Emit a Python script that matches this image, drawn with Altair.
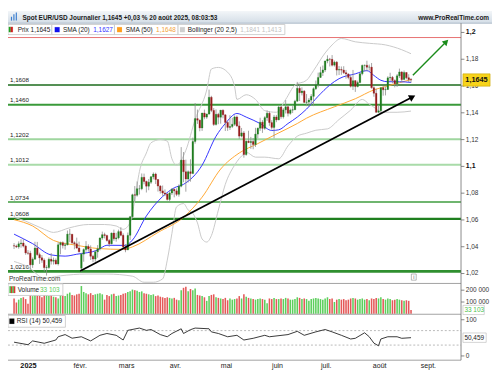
import altair as alt
import pandas as pd

# ---------------- layout (reference is 500x375, page has an 8px margin) ----------------
W, H = 492, 367
SX, SY = W / 500.0, H / 375.0
FONT = "Liberation Sans"


def X(v):
    return v * SX


def Y(v):
    return v * SY


# ---------------- data ----------------
DATES = pd.bdate_range("2024-12-24", "2025-08-20")

OPEN = [1.0408, 1.0405, 1.0399, 1.0422, 1.0428, 1.0405, 1.0354, 1.0352, 1.0265, 1.0307,
        1.0390, 1.0341, 1.0317, 1.0300, 1.0244, 1.0245, 1.0307, 1.0292, 1.0300, 1.0272,
        1.0414, 1.0430, 1.0410, 1.0414, 1.0494, 1.0494, 1.0430, 1.0422, 1.0390, 1.0240,
        1.0345, 1.0379, 1.0403, 1.0383, 1.0329, 1.0308, 1.0362, 1.0385, 1.0465, 1.0490,
        1.0484, 1.0447, 1.0422, 1.0502, 1.0459, 1.0466, 1.0513, 1.0485, 1.0398, 1.0376,
        1.0485, 1.0624, 1.0788, 1.0785, 1.0833, 1.0833, 1.0918, 1.0888, 1.0852, 1.0882,
        1.0922, 1.0943, 1.0902, 1.0853, 1.0817, 1.0801, 1.0794, 1.0753, 1.0801, 1.0829,
        1.0817, 1.0791, 1.0852, 1.1047, 1.0960, 1.0906, 1.0960, 1.0947, 1.1186, 1.1357,
        1.1345, 1.1287, 1.1398, 1.1368, 1.1391, 1.1516, 1.1418, 1.1313, 1.1389, 1.1367,
        1.1420, 1.1385, 1.1328, 1.1291, 1.1298, 1.1314, 1.1369, 1.1302, 1.1226, 1.1250,
        1.1088, 1.1188, 1.1178, 1.1186, 1.1163, 1.1241, 1.1285, 1.1330, 1.1284, 1.1364,
        1.1397, 1.1327, 1.1291, 1.1369, 1.1347, 1.1443, 1.1370, 1.1422, 1.1445, 1.1396,
        1.1420, 1.1423, 1.1487, 1.1583, 1.1550, 1.1562, 1.1478, 1.1480, 1.1495, 1.1523,
        1.1580, 1.1610, 1.1664, 1.1700, 1.1720, 1.1787, 1.1800, 1.1799, 1.1756, 1.1778,
        1.1719, 1.1723, 1.1719, 1.1700, 1.1690, 1.1664, 1.1598, 1.1640, 1.1596, 1.1626,
        1.1692, 1.1754, 1.1755, 1.1741, 1.1741, 1.1588, 1.1546, 1.1404, 1.1415, 1.1587,
        1.1572, 1.1574, 1.1661, 1.1665, 1.1641, 1.1617, 1.1676, 1.1705, 1.1648, 1.1701,
        1.1662, 1.1648]
HIGH = [1.0427, 1.0416, 1.0440, 1.0456, 1.0458, 1.0415, 1.0375, 1.0370, 1.0320, 1.0437,
        1.0436, 1.0356, 1.0338, 1.0313, 1.0262, 1.0320, 1.0353, 1.0319, 1.0313, 1.0434,
        1.0438, 1.0440, 1.0430, 1.0521, 1.0533, 1.0494, 1.0441, 1.0468, 1.0438, 1.0355,
        1.0388, 1.0442, 1.0418, 1.0410, 1.0340, 1.0375, 1.0412, 1.0470, 1.0513, 1.0505,
        1.0490, 1.0457, 1.0506, 1.0528, 1.0504, 1.0528, 1.0546, 1.0500, 1.0420, 1.0506,
        1.0630, 1.0796, 1.0853, 1.0888, 1.0860, 1.0947, 1.0946, 1.0893, 1.0906, 1.0928,
        1.0955, 1.0953, 1.0905, 1.0860, 1.0857, 1.0828, 1.0799, 1.0812, 1.0838, 1.0835,
        1.0836, 1.0866, 1.1144, 1.1107, 1.1050, 1.0970, 1.1053, 1.1215, 1.1473, 1.1424,
        1.1350, 1.1400, 1.1424, 1.1394, 1.1573, 1.1527, 1.1436, 1.1425, 1.1400, 1.1421,
        1.1425, 1.1389, 1.1340, 1.1382, 1.1363, 1.1380, 1.1380, 1.1336, 1.1287, 1.1264,
        1.1193, 1.1266, 1.1220, 1.1212, 1.1288, 1.1290, 1.1363, 1.1345, 1.1375, 1.1418,
        1.1410, 1.1345, 1.1384, 1.1384, 1.1455, 1.1454, 1.1435, 1.1495, 1.1455, 1.1431,
        1.1450, 1.1497, 1.1631, 1.1613, 1.1590, 1.1570, 1.1540, 1.1510, 1.1540, 1.1590,
        1.1641, 1.1700, 1.1744, 1.1753, 1.1790, 1.1829, 1.1810, 1.1831, 1.1790, 1.1787,
        1.1749, 1.1746, 1.1748, 1.1720, 1.1695, 1.1680, 1.1720, 1.1644, 1.1640, 1.1700,
        1.1760, 1.1760, 1.1789, 1.1760, 1.1772, 1.1598, 1.1580, 1.1455, 1.1590, 1.1599,
        1.1595, 1.1673, 1.1699, 1.1675, 1.1650, 1.1690, 1.1730, 1.1710, 1.1716, 1.1704,
        1.1688, 1.1660]
LOW = [1.0383, 1.0390, 1.0385, 1.0393, 1.0395, 1.0340, 1.0340, 1.0226, 1.0242, 1.0305,
       1.0333, 1.0272, 1.0280, 1.0215, 1.0185, 1.0235, 1.0267, 1.0267, 1.0266, 1.0260,
       1.0344, 1.0387, 1.0378, 1.0410, 1.0434, 1.0420, 1.0381, 1.0386, 1.0358, 1.0211,
       1.0288, 1.0363, 1.0363, 1.0301, 1.0285, 1.0288, 1.0318, 1.0372, 1.0452, 1.0462,
       1.0438, 1.0400, 1.0418, 1.0444, 1.0438, 1.0455, 1.0478, 1.0388, 1.0359, 1.0376,
       1.0450, 1.0610, 1.0735, 1.0774, 1.0790, 1.0822, 1.0866, 1.0805, 1.0822, 1.0869,
       1.0903, 1.0868, 1.0812, 1.0797, 1.0780, 1.0778, 1.0745, 1.0733, 1.0786, 1.0769,
       1.0778, 1.0774, 1.0844, 1.0882, 1.0811, 1.0880, 1.0886, 1.0942, 1.1170, 1.1317,
       1.1262, 1.1265, 1.1352, 1.1355, 1.1385, 1.1405, 1.1302, 1.1305, 1.1315, 1.1319,
       1.1359, 1.1264, 1.1265, 1.1272, 1.1286, 1.1302, 1.1293, 1.1205, 1.1217, 1.1065,
       1.1080, 1.1174, 1.1131, 1.1128, 1.1145, 1.1210, 1.1265, 1.1250, 1.1273, 1.1340,
       1.1303, 1.1275, 1.1210, 1.1330, 1.1345, 1.1355, 1.1357, 1.1395, 1.1373, 1.1385,
       1.1398, 1.1420, 1.1480, 1.1488, 1.1530, 1.1473, 1.1450, 1.1445, 1.1460, 1.1450,
       1.1570, 1.1590, 1.1660, 1.1675, 1.1705, 1.1770, 1.1746, 1.1746, 1.1745, 1.1679,
       1.1682, 1.1684, 1.1690, 1.1655, 1.1650, 1.1589, 1.1570, 1.1556, 1.1590, 1.1620,
       1.1680, 1.1710, 1.1710, 1.1715, 1.1580, 1.1520, 1.1400, 1.1400, 1.1392, 1.1528,
       1.1530, 1.1570, 1.1636, 1.1620, 1.1590, 1.1593, 1.1660, 1.1630, 1.1648, 1.1650,
       1.1630, 1.1624]
CLOSE = [1.0405, 1.0399, 1.0422, 1.0428, 1.0405, 1.0354, 1.0352, 1.0265, 1.0307, 1.0390,
         1.0341, 1.0317, 1.0300, 1.0244, 1.0245, 1.0307, 1.0292, 1.0300, 1.0272, 1.0414,
         1.0430, 1.0410, 1.0414, 1.0494, 1.0494, 1.0430, 1.0422, 1.0390, 1.0362, 1.0345,
         1.0379, 1.0403, 1.0383, 1.0329, 1.0308, 1.0362, 1.0385, 1.0465, 1.0490, 1.0484,
         1.0447, 1.0422, 1.0502, 1.0459, 1.0466, 1.0513, 1.0485, 1.0398, 1.0376, 1.0485,
         1.0624, 1.0788, 1.0785, 1.0833, 1.0833, 1.0918, 1.0888, 1.0852, 1.0882, 1.0922,
         1.0943, 1.0902, 1.0853, 1.0817, 1.0801, 1.0794, 1.0753, 1.0801, 1.0829, 1.0817,
         1.0791, 1.0852, 1.1047, 1.0960, 1.0906, 1.0960, 1.0947, 1.1186, 1.1357, 1.1345,
         1.1287, 1.1398, 1.1368, 1.1391, 1.1516, 1.1418, 1.1313, 1.1389, 1.1367, 1.1420,
         1.1385, 1.1328, 1.1291, 1.1298, 1.1314, 1.1369, 1.1302, 1.1226, 1.1250, 1.1088,
         1.1188, 1.1178, 1.1186, 1.1163, 1.1241, 1.1285, 1.1330, 1.1284, 1.1364, 1.1397,
         1.1327, 1.1291, 1.1369, 1.1347, 1.1443, 1.1370, 1.1422, 1.1445, 1.1396, 1.1420,
         1.1423, 1.1487, 1.1583, 1.1550, 1.1562, 1.1478, 1.1480, 1.1495, 1.1523, 1.1580,
         1.1610, 1.1664, 1.1700, 1.1720, 1.1787, 1.1800, 1.1799, 1.1756, 1.1778, 1.1719,
         1.1723, 1.1719, 1.1700, 1.1690, 1.1664, 1.1598, 1.1640, 1.1596, 1.1626, 1.1692,
         1.1754, 1.1755, 1.1741, 1.1741, 1.1588, 1.1546, 1.1404, 1.1415, 1.1587, 1.1572,
         1.1574, 1.1661, 1.1665, 1.1641, 1.1617, 1.1676, 1.1705, 1.1648, 1.1701, 1.1662,
         1.1648, 1.1645]
VOLUME_K = [130, 95, 120, 135, 140, 125, 85, 165, 150, 160,
            155, 150, 140, 165, 170, 150, 160, 145, 140, 130,
            165, 155, 150, 170, 180, 160, 155, 165, 170, 235,
            185, 175, 165, 175, 160, 165, 170, 175, 165, 120,
            160, 150, 165, 170, 150, 155, 160, 170, 175, 185,
            190, 205, 200, 195, 185, 190, 175, 170, 165, 160,
            165, 150, 155, 145, 140, 135, 140, 135, 130, 135,
            120, 115, 200, 220, 230, 190, 210, 200, 215, 160,
            155, 150, 140, 110, 150, 160, 165, 140, 135, 130,
            125, 135, 115, 130, 120, 125, 130, 150, 130, 165,
            145, 135, 130, 125, 120, 125, 130, 125, 120, 90,
            130, 125, 135, 125, 125, 130, 125, 135, 130, 120,
            120, 125, 140, 135, 125, 130, 125, 110, 125, 130,
            135, 130, 125, 120, 130, 140, 125, 130, 100, 120,
            125, 120, 125, 115, 120, 130, 135, 130, 120, 125,
            130, 120, 125, 115, 130, 125, 135, 130, 140, 125,
            120, 130, 125, 115, 120, 125, 120, 115, 110, 115,
            110, 33.103]

SMA20_IDX = [0, 8, 16, 22, 27, 36, 40, 48, 51, 57, 64, 69, 73, 81, 87, 91, 96, 100, 106, 111,
             114, 118, 122, 126, 131, 136, 140, 147, 152, 155, 158, 161, 166, 171]
SMA20_VAL = [1.0494, 1.0423, 1.0339, 1.0330, 1.0344, 1.0375, 1.0411, 1.0410, 1.0450, 1.0630,
             1.0775, 1.0840, 1.0866, 1.1009, 1.1225, 1.1320, 1.1395, 1.1368, 1.1320, 1.1268,
             1.1273, 1.1320, 1.1368, 1.1428, 1.1524, 1.1607, 1.1655, 1.1691, 1.1715, 1.1679,
             1.1643, 1.1632, 1.1632, 1.1627]
SMA50_IDX = [0, 8, 17, 27, 36, 47, 51, 62, 73, 81, 89, 97, 105, 114, 122, 126, 138, 147, 155,
             160, 166, 171]
SMA50_VAL = [1.0602, 1.0555, 1.0447, 1.0411, 1.0387, 1.0380, 1.0399, 1.0507, 1.0620, 1.0770,
             1.0980, 1.1100, 1.1170, 1.1250, 1.1320, 1.1360, 1.1445, 1.1505, 1.1571, 1.1596,
             1.1625, 1.1648]
BBU_IDX = [0, 5, 13, 17, 24, 32, 39, 44, 47, 50, 52, 54, 57, 59, 63, 66, 68, 70, 74, 78, 83,
           85, 88, 92, 95, 96, 100, 104, 108, 113, 117, 121, 126, 129, 134, 137, 141, 147,
           153, 160, 167, 171]
BBU_VAL = [1.0620, 1.0591, 1.0530, 1.0507, 1.0542, 1.0566, 1.0566, 1.0555, 1.0530, 1.0580,
           1.0750, 1.0961, 1.1100, 1.1176, 1.1200, 1.1189, 1.1057, 1.1009, 1.1120, 1.1350,
           1.1571, 1.1727, 1.1739, 1.1703, 1.1596, 1.1500, 1.1535, 1.1500, 1.1416, 1.1404,
           1.1500, 1.1607, 1.1643, 1.1715, 1.1847, 1.1907, 1.1955, 1.1930, 1.1919, 1.1907,
           1.1871, 1.1841]
BBL_IDX = [0, 6, 13, 20, 31, 40, 51, 56, 60, 64, 66, 68, 70, 73, 75, 77, 79, 81, 83, 85, 88,
           91, 95, 99, 100, 104, 108, 114, 118, 122, 126, 130, 135, 140, 145, 150, 153, 156,
           158, 165, 171]
BBL_VAL = [1.0290, 1.0250, 1.0165, 1.0183, 1.0196, 1.0196, 1.0180, 1.0135, 1.0135, 1.0160,
           1.0300, 1.0500, 1.0698, 1.0722, 1.0674, 1.0650, 1.0578, 1.0458, 1.0435, 1.0483,
           1.0674, 1.0866, 1.1009, 1.1093, 1.1105, 1.1069, 1.1069, 1.1057, 1.1153, 1.1225,
           1.1248, 1.1270, 1.1280, 1.1350, 1.1420, 1.1500, 1.1464, 1.1430, 1.1404, 1.1404,
           1.1413]
RSI_IDX = [0, 6, 8, 13, 18, 19, 22, 25, 29, 33, 37, 40, 44, 47, 49, 54, 57, 59, 63, 66, 68,
           72, 73, 76, 78, 84, 85, 88, 92, 96, 99, 103, 108, 110, 118, 122, 125, 130, 134,
           137, 141, 145, 147, 151, 153, 155, 157, 158, 161, 165, 167, 171]
RSI_VAL = [38, 31, 41.5, 35, 44, 53, 59, 49, 53, 41.5, 57, 62, 57, 44, 70.7, 77, 70.7, 73, 59,
           53, 62, 75, 62, 72.6, 77, 75, 66.5, 62, 53, 57, 44, 48.7, 57, 53, 59, 68, 57, 66.5,
           73, 66.5, 57, 46.8, 48.7, 64, 53, 35.4, 28, 46.8, 53, 53, 48.7, 50.459]

LEVELS = [1.1608, 1.1460, 1.1202, 1.1012, 1.0734, 1.0608, 1.0216]
LEVEL_LABELS = ["1,1608", "1,1460", "1,1202", "1,1012", "1,0734", "1,0608", "1,0216"]
RED_LEVEL = [1.1962]
PRICE_TICKS = [1.2, 1.18, 1.16, 1.14, 1.12, 1.1, 1.08, 1.06, 1.04, 1.02]
PRICE_TICK_LABELS = ["1,2", "1,18", "1,16", "1,14", "1,12", "1,1", "1,08", "1,06", "1,04", "1,02"]
VOL_TICKS = [200, 100]
VOL_TICK_LABELS = ["200 000", "100 000"]
RSI_TICKS = [100, 0]
RSI_TICK_LABELS = ["100", "0"]
RSI_BANDS = [70, 30]
MONTH_IDX = [6, 29, 49, 70, 92, 114, 135, 158, 179]
MONTH_LABELS = ["2025", "févr.", "mars", "avr.", "mai", "juin", "juil.", "août", "sept."]
TREND_IDX = [28.5, 171.6]
TREND_VAL = [1.0219, 1.1518]
TARGET_IDX = [171.8, 186.15]
TARGET_VAL = [1.1681, 1.1930]

assert len(DATES) == len(OPEN) == len(HIGH) == len(LOW) == len(CLOSE) == len(VOLUME_K) == 172

# ---------------- scales (map data onto the reference's panel bands) ----------------
XS = alt.Scale(domain=[-0.4902, 203.76], nice=False, zero=False)
PS = alt.Scale(domain=[0.94646, 1.21603], nice=False, zero=False)
VS = alt.Scale(domain=[-491.057, 2557.724], nice=False, zero=False)
RS = alt.Scale(domain=[-44.41, 952.9], nice=False, zero=False)

ONE = pd.DataFrame({"k": [0]})
TXT = "#1a1a1a"
FS = 6.7


def xq(field="i"):
    return alt.X(f"{field}:Q", scale=XS, axis=None)


def yq(field, scale):
    return alt.Y(f"{field}:Q", scale=scale, axis=None)


def label(x, y, s, size=FS, bold=False, color=TXT, align="left"):
    return alt.Chart(pd.DataFrame({"t": [s]})).mark_text(
        font=FONT, fontSize=size * SY, fontWeight="bold" if bold else "normal",
        color=color, align=align, baseline="middle"
    ).encode(x=alt.value(X(x)), y=alt.value(Y(y)), text="t:N")


def box(x0, x1, y0, y1, fill="white", stroke="#c4c4c4", sw=0.8):
    return alt.Chart(ONE).mark_rect(fill=fill, stroke=stroke, strokeWidth=sw).encode(
        x=alt.value(X(x0)), x2=alt.value(X(x1)), y=alt.value(Y(y0)), y2=alt.value(Y(y1)))


def hline(y, x0, x1, color, sw=1.0):
    return alt.Chart(ONE).mark_rule(color=color, strokeWidth=sw).encode(
        x=alt.value(X(x0)), x2=alt.value(X(x1)), y=alt.value(Y(y)))


def vline(x, y0, y1, color, sw=1.0):
    return alt.Chart(ONE).mark_rule(color=color, strokeWidth=sw).encode(
        x=alt.value(X(x)), y=alt.value(Y(y0)), y2=alt.value(Y(y1)))


df = pd.DataFrame({"i": range(len(DATES)), "date": DATES, "o": OPEN, "h": HIGH,
                   "l": LOW, "c": CLOSE, "v": VOLUME_K})

layers = []

# header bar
layers.append(alt.Chart(ONE).mark_rect(
    fill=alt.LinearGradient(gradient="linear", x1=0, x2=0, y1=0, y2=1,
                            stops=[alt.GradientStop(color="#f3f6f9", offset=0),
                                   alt.GradientStop(color="#d3dde6", offset=1)])
).encode(x=alt.value(0), x2=alt.value(W), y=alt.value(0), y2=alt.value(Y(12.7))))
layers.append(hline(12.7, 0, 500, "#9fb0bf", 0.8))

# support / resistance levels
LEVEL_STYLE = [("#1c6b1c", 1.4), ("#3a9a3a", 2.0), ("#9fd69f", 2.0), ("#a9dba9", 2.0),
               ("#3f9d3f", 1.4), ("#1f7f1f", 2.4), ("#2f8f2f", 2.8)]
for lvl, (col, sw) in zip(LEVELS, LEVEL_STYLE):
    layers.append(alt.Chart(pd.DataFrame({"p": [lvl]})).mark_rule(color=col, strokeWidth=sw)
                  .encode(y=yq("p", PS), x=alt.value(0), x2=alt.value(X(468))))
layers.append(alt.Chart(pd.DataFrame({"p": RED_LEVEL})).mark_rule(color="#e87070", strokeWidth=1)
              .encode(y=yq("p", PS), x=alt.value(0), x2=alt.value(X(468))))
layers.append(alt.Chart(pd.DataFrame({"p": LEVELS, "t": LEVEL_LABELS})).mark_text(
    font=FONT, fontSize=6.5 * SY, color=TXT, align="left", baseline="alphabetic", dy=-Y(2.6)
).encode(x=alt.value(X(2)), y=yq("p", PS), text="t:N"))

# Bollinger bands and moving averages
for idx, val, col in [(BBU_IDX, BBU_VAL, "#c9c9c9"), (BBL_IDX, BBL_VAL, "#c9c9c9"),
                      (SMA50_IDX, SMA50_VAL, "#ffa733"), (SMA20_IDX, SMA20_VAL, "#3333ff")]:
    layers.append(alt.Chart(pd.DataFrame({"i": idx, "p": val})).mark_line(
        color=col, strokeWidth=1, interpolate="monotone").encode(x=xq(), y=yq("p", PS)))

# candles
layers.append(alt.Chart(df).mark_rule(color="#8e8e8e", strokeWidth=0.8)
              .encode(x=xq(), y=yq("l", PS), y2="h:Q"))
layers.append(alt.Chart(df).transform_filter("datum.c >= datum.o").mark_bar(
    size=X(1.7), color="#1f7d1f", stroke="#1f7d1f", strokeWidth=0.3)
    .encode(x=xq(), y=yq("o", PS), y2="c:Q"))
layers.append(alt.Chart(df).transform_filter("datum.c < datum.o").mark_bar(
    size=X(1.7), color="#961c1c", stroke="#961c1c", strokeWidth=0.3)
    .encode(x=xq(), y=yq("o", PS), y2="c:Q"))

# trend line and target arrow
trend = pd.DataFrame({"i": TREND_IDX, "p": TREND_VAL})
target = pd.DataFrame({"i": TARGET_IDX, "p": TARGET_VAL})
layers.append(alt.Chart(trend).mark_line(color="black", strokeWidth=1.8).encode(x=xq(), y=yq("p", PS)))
layers.append(alt.Chart(trend.tail(1)).mark_point(shape="triangle-right", filled=True, size=55,
                                                  angle=332.7, color="black", opacity=1)
              .encode(x=xq(), y=yq("p", PS)))
layers.append(alt.Chart(target).mark_line(color="#1b8c1b", strokeWidth=1.4).encode(x=xq(), y=yq("p", PS)))
layers.append(alt.Chart(target.tail(1)).mark_point(shape="triangle-right", filled=True, size=45,
                                                   angle=315.4, color="#1b8c1b", opacity=1)
              .encode(x=xq(), y=yq("p", PS)))

# volume panel
layers.append(alt.Chart(df).transform_filter("datum.c >= datum.o").mark_bar(
    size=X(1.6), color="#5ccf5c").encode(x=xq(), y=yq("v", VS), y2=alt.datum(0)))
layers.append(alt.Chart(df).transform_filter("datum.c < datum.o").mark_bar(
    size=X(1.6), color="#e45858").encode(x=xq(), y=yq("v", VS), y2=alt.datum(0)))

# RSI panel
layers.append(alt.Chart(pd.DataFrame({"r": RSI_BANDS})).mark_rule(
    color="#a8a8a8", strokeWidth=0.8, strokeDash=[2, 2])
    .encode(y=yq("r", RS), x=alt.value(0), x2=alt.value(X(468))))
layers.append(alt.Chart(pd.DataFrame({"i": RSI_IDX, "r": RSI_VAL})).mark_line(
    color="#222222", strokeWidth=0.9).encode(x=xq(), y=yq("r", RS)))

# panel separators and right axis
for yy in (283, 315, 362.7):
    layers.append(hline(yy, 0, 468, "#8a8a8a", 0.8))
layers.append(vline(468, 12.7, 362.7, "#6a6a6a", 0.8))

ticks = pd.DataFrame({"p": PRICE_TICKS, "t": PRICE_TICK_LABELS})
layers.append(alt.Chart(ticks).mark_rule(color="#6a6a6a", strokeWidth=0.8)
              .encode(y=yq("p", PS), x=alt.value(X(468)), x2=alt.value(X(471.5))))
layers.append(alt.Chart(ticks).transform_filter("length(datum.t) > 3").mark_text(
    font=FONT, fontSize=FS * SY, color="#333333", align="left", baseline="middle")
    .encode(x=alt.value(X(473)), y=yq("p", PS), text="t:N"))
layers.append(alt.Chart(ticks).transform_filter("length(datum.t) <= 3").mark_text(
    font=FONT, fontSize=7.2 * SY, fontWeight="bold", color="#111111", align="left", baseline="middle")
    .encode(x=alt.value(X(473)), y=yq("p", PS), text="t:N"))

vt = pd.DataFrame({"v": VOL_TICKS, "t": VOL_TICK_LABELS})
layers.append(alt.Chart(vt).mark_rule(color="#6a6a6a", strokeWidth=0.8)
              .encode(y=yq("v", VS), x=alt.value(X(468)), x2=alt.value(X(471.5))))
layers.append(alt.Chart(vt).mark_text(font=FONT, fontSize=FS * SY, color="#333333", align="left",
                                      baseline="middle")
              .encode(x=alt.value(X(473)), y=yq("v", VS), text="t:N"))
rt = pd.DataFrame({"r": RSI_TICKS, "t": RSI_TICK_LABELS})
layers.append(alt.Chart(rt).mark_rule(color="#6a6a6a", strokeWidth=0.8)
              .encode(y=yq("r", RS), x=alt.value(X(468)), x2=alt.value(X(471.5))))
layers.append(alt.Chart(rt).mark_text(font=FONT, fontSize=FS * SY, color="#333333", align="left",
                                      baseline="middle")
              .encode(x=alt.value(X(473)), y=yq("r", RS), text="t:N"))

# last-value boxes on the right axis
last = pd.DataFrame({"p": [CLOSE[-1]], "v": [VOLUME_K[-1]], "r": [RSI_VAL[-1]],
                     "tp": ["1,1645"], "tv": ["33 103"], "tr": ["50,459"]})
layers.append(alt.Chart(last).transform_calculate(lo="datum.p - 0.0046", hi="datum.p + 0.0046")
              .mark_rect(fill="#f7d31a", stroke="#c9a400", strokeWidth=0.6)
              .encode(x=alt.value(X(470)), x2=alt.value(X(498)), y=yq("lo", PS), y2="hi:Q"))
layers.append(alt.Chart(last).mark_text(font=FONT, fontSize=7.6 * SY, fontWeight="bold", color="#111111",
                                        align="center", baseline="middle")
              .encode(x=alt.value(X(484)), y=yq("p", PS), text="tp:N"))
layers.append(alt.Chart(last).transform_calculate(lo="datum.v - 39", hi="datum.v + 39")
              .mark_rect(fill="white", stroke="#b8b8b8", strokeWidth=0.6)
              .encode(x=alt.value(X(470)), x2=alt.value(X(492)), y=yq("lo", VS), y2="hi:Q"))
layers.append(alt.Chart(last).mark_text(font=FONT, fontSize=FS * SY, color="#4cc24c",
                                        align="left", baseline="middle")
              .encode(x=alt.value(X(471.5)), y=yq("v", VS), text="tv:N"))
layers.append(alt.Chart(last).transform_calculate(lo="datum.r - 13", hi="datum.r + 13")
              .mark_rect(fill="white", stroke="#b8b8b8", strokeWidth=0.6)
              .encode(x=alt.value(X(470)), x2=alt.value(X(494)), y=yq("lo", RS), y2="hi:Q"))
layers.append(alt.Chart(last).mark_text(font=FONT, fontSize=FS * SY, color="#222222",
                                        align="left", baseline="middle")
              .encode(x=alt.value(X(471.5)), y=yq("r", RS), text="tr:N"))

# date axis labels
months = pd.DataFrame({"i": MONTH_IDX, "t": MONTH_LABELS})
layers.append(alt.Chart(months).transform_filter("datum.t != '2025'").mark_text(
    font=FONT, fontSize=7.3 * SY, color="#222222", align="center", baseline="middle", dx=-X(1.2))
    .encode(x=xq(), y=alt.value(Y(369)), text="t:N"))
layers.append(alt.Chart(months).transform_filter("datum.t == '2025'").mark_text(
    font=FONT, fontSize=7.6 * SY, fontWeight="bold", color="#111111", align="center",
    baseline="middle", dx=X(0.5))
    .encode(x=xq(), y=alt.value(Y(369)), text="t:N"))

# header texts
layers.append(alt.Chart(ONE).mark_bar(color="#3d7fd0").encode(
    x=alt.value(X(3)), x2=alt.value(X(4.2)), y=alt.value(Y(6)), y2=alt.value(Y(10))))
layers.append(alt.Chart(ONE).mark_bar(color="#3d7fd0").encode(
    x=alt.value(X(5.5)), x2=alt.value(X(6.7)), y=alt.value(Y(3.5)), y2=alt.value(Y(10))))
layers.append(alt.Chart(ONE).mark_bar(color="#3d7fd0").encode(
    x=alt.value(X(8)), x2=alt.value(X(9.2)), y=alt.value(Y(1.5)), y2=alt.value(Y(10))))
layers.append(label(15, 7.2, "Spot EUR/USD Journalier 1,1645 +0,03 % 20 août 2025, 08:03:53", bold=True))
layers.append(label(497, 7.2, "www.ProRealTime.com", bold=True, align="right"))

# legend row of the price panel
layers += [box(0, 45.3, 14, 24.5), box(45.3, 110, 14, 24.5), box(110, 175.7, 14, 24.5),
           box(175.7, 286, 14, 24.5)]
layers += [box(0.8, 2.8, 16.5, 22, fill="#22a022", stroke="#22a022", sw=0.1),
           box(2.8, 5, 16.5, 22, fill="#d02020", stroke="#d02020", sw=0.1),
           box(48.3, 53.3, 16.8, 22, fill="#1010ee", stroke="#1010ee", sw=0.1),
           box(112.7, 117.7, 16.8, 22, fill="#ff9d1a", stroke="#ff9d1a", sw=0.1),
           box(177.7, 182.7, 16.8, 22, fill="#cfcfcf", stroke="#cfcfcf", sw=0.1)]
layers.append(label(10, 19.4, "Prix 1,1645"))
layers.append(label(56.7, 19.4, "SMA (20)"))
layers.append(label(88, 19.4, "1,1627", color="#3434ff"))
layers.append(label(121.7, 19.4, "SMA (50)"))
layers.append(label(153, 19.4, "1,1648", color="#f3a23a"))
layers.append(label(185.7, 19.4, "Bollinger (20 2,5)"))
layers.append(label(240, 19.4, "1,1841  1,1413", color="#c2c2c2"))

# watermark and info icon
layers.append(label(1, 278.3, "ProRealTime.com", color="#333333"))
layers.append(box(416.7, 421.7, 273.2, 279.6, fill="white", stroke="#8a8a8a", sw=0.6))
layers.append(label(419.2, 276.4, "i", size=5.5, color="#555555", align="center"))

# volume legend
layers.append(box(0, 56.7, 283.4, 295.5))
layers += [box(1.5, 3, 286, 293, fill="#3cbf3c", stroke="#3cbf3c", sw=0.1),
           box(3, 4.5, 286, 293, fill="#e03a3a", stroke="#e03a3a", sw=0.1),
           box(4.5, 6, 286, 293, fill="#3cbf3c", stroke="#3cbf3c", sw=0.1),
           box(6, 7.5, 286, 293, fill="#e03a3a", stroke="#e03a3a", sw=0.1)]
layers.append(label(10, 289.4, "Volume"))
layers.append(label(33, 289.4, "33 103", color="#5acb5a"))

# RSI legend
layers.append(box(0, 59.3, 316.3, 328.5))
layers.append(box(1.5, 6.5, 319.5, 325, fill="#000000", stroke="#000000", sw=0.1))
layers.append(label(9, 322.3, "RSI (14) 50,459"))

chart = alt.layer(*layers).resolve_scale(y="independent").properties(
    width=W, height=H, autosize=alt.AutoSizeParams(type="none"), padding=0
).configure(background="white").configure_view(stroke=None)

chart.save("out.html", embed_options={"renderer": "svg", "actions": False})
